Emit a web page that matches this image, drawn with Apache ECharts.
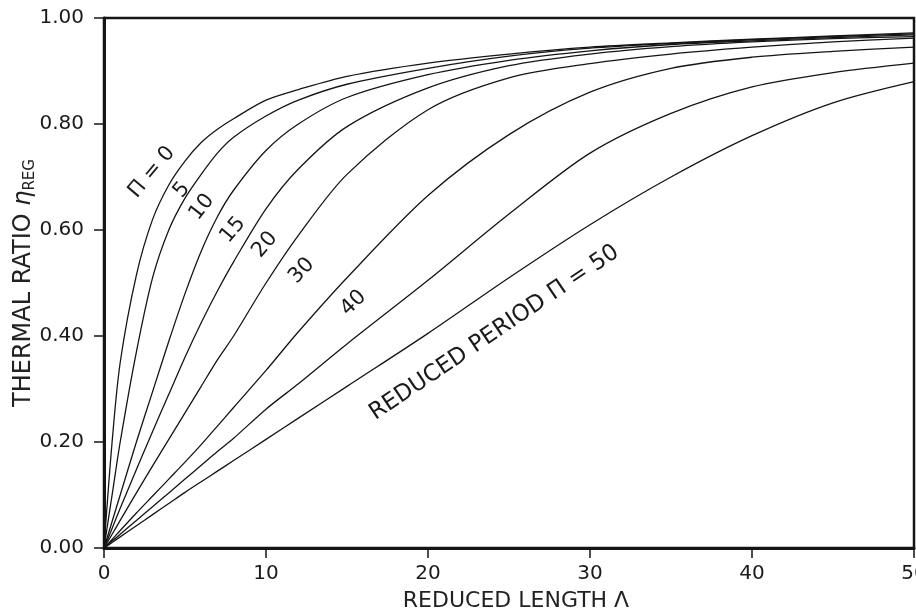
<!DOCTYPE html>
<html>
<head>
<meta charset="utf-8">
<script src="https://cdn.jsdelivr.net/npm/echarts@6/dist/echarts.min.js"></script>
<style>
html,body{margin:0;padding:0;background:#fff;}
#chart{width:916px;height:609px;}
</style>
</head>
<body>
<div id="chart"></div>
<script>
let lambdaPts = [0, 0.5, 1, 2, 3, 4, 5, 6, 7, 8, 10, 12, 15, 20, 25, 30, 35, 40, 45, 50]
// thermal ratio for each reduced period Π
let etaP0  = [0, 0.2, 0.35, 0.515, 0.62, 0.685, 0.73, 0.765, 0.79, 0.81, 0.845, 0.865, 0.89, 0.915, 0.932, 0.945, 0.953, 0.96, 0.966, 0.972]
let etaP5  = [0, 0.1, 0.2, 0.37, 0.51, 0.60, 0.66, 0.705, 0.745, 0.775, 0.815, 0.845, 0.875, 0.905, 0.928, 0.943, 0.952, 0.959, 0.965, 0.970]
let etaP10 = [0, 0.05, 0.1, 0.2, 0.295, 0.39, 0.48, 0.56, 0.625, 0.675, 0.75, 0.80, 0.85, 0.893, 0.92, 0.938, 0.95, 0.957, 0.963, 0.968]
let etaP15 = [0, 0.037, 0.075, 0.148, 0.22, 0.29, 0.36, 0.425, 0.485, 0.54, 0.64, 0.715, 0.795, 0.868, 0.91, 0.932, 0.946, 0.955, 0.961, 0.965]
let etaP20 = [0, 0.026, 0.052, 0.104, 0.155, 0.205, 0.255, 0.305, 0.355, 0.40, 0.50, 0.59, 0.705, 0.827, 0.887, 0.914, 0.932, 0.945, 0.955, 0.962]
let etaP30 = [0, 0.016, 0.033, 0.066, 0.098, 0.13, 0.162, 0.195, 0.23, 0.265, 0.335, 0.408, 0.51, 0.665, 0.78, 0.86, 0.905, 0.926, 0.937, 0.945]
let etaP40 = [0, 0.013, 0.026, 0.052, 0.078, 0.104, 0.13, 0.156, 0.182, 0.207, 0.262, 0.31, 0.385, 0.505, 0.63, 0.745, 0.82, 0.87, 0.897, 0.915]
let etaP50 = [0, 0.0105, 0.021, 0.042, 0.063, 0.084, 0.105, 0.125, 0.145, 0.165, 0.205, 0.245, 0.305, 0.405, 0.51, 0.61, 0.70, 0.778, 0.84, 0.88]
let periods = [0, 5, 10, 15, 20, 30, 40, 50]
let curves = [etaP0, etaP5, etaP10, etaP15, etaP20, etaP30, etaP40, etaP50]

// curve labels, anchored in data units
let curveLabels = [
    {text: 'Π = 0', at: [2.96, 0.709], angle: 50, size: 21},
    {text: '5', at: [4.81, 0.675], angle: 50, size: 21},
    {text: '10', at: [6.05, 0.643], angle: 52, size: 21},
    {text: '15', at: [7.96, 0.600], angle: 50, size: 21},
    {text: '20', at: [9.94, 0.572], angle: 50, size: 21},
    {text: '30', at: [12.2, 0.523], angle: 47, size: 21},
    {text: '40', at: [15.4, 0.462], angle: 44, size: 21},
    {text: 'REDUCED PERIOD Π = 50', at: [24.1, 0.406], angle: 34, size: 23}
]

let ink = '#151515'
let font = 'DejaVu Sans'

let myChart = echarts.init(document.getElementById('chart'), null, {renderer: 'canvas'})

let series = curves.map(function (vals, i) {
    return {
        name: 'Π = ' + periods[i],
        type: 'line',
        data: lambdaPts.map(function (x, j) { return [x, vals[j]] }),
        smooth: 0.3,
        showSymbol: false,
        silent: true,
        lineStyle: {color: ink, width: 1.3}
    }
})

let option = {
    backgroundColor: '#fff',
    animation: false,
    grid: {
        left: 104, right: 2, top: 18, bottom: 61,
        outerBoundsMode: 'none',
        containLabel: false,
        show: true, borderColor: ink, borderWidth: 2.5
    },
    xAxis: {
        type: 'value',
        min: 0, max: 50, interval: 10,
        name: 'REDUCED LENGTH Λ',
        nameLocation: 'middle',
        nameGap: 42,
        nameMoveOverlap: false,
        nameTextStyle: {fontFamily: font, fontSize: 22, color: '#222', padding: [0, 0, 0, 14]},
        axisLine: {show: true, lineStyle: {color: ink, width: 3}},
        axisTick: {show: true, length: 10, lineStyle: {color: ink, width: 1.5}},
        axisLabel: {fontFamily: font, fontSize: 20, color: '#1a1a1a', margin: 16},
        splitLine: {show: false}
    },
    yAxis: {
        type: 'value',
        min: 0, max: 1, interval: 0.2,
        name: 'THERMAL RATIO {eta|η}{sub|REG}',
        nameLocation: 'middle',
        nameGap: 66,
        nameMoveOverlap: false,
        nameTextStyle: {
            fontFamily: font, fontSize: 24, color: '#222',
            rich: {
                eta: {fontFamily: font, fontSize: 24, fontStyle: 'italic', color: '#222', lineHeight: 28},
                sub: {fontFamily: font, fontSize: 15, color: '#222', lineHeight: 14, verticalAlign: 'bottom'}
            }
        },
        axisLine: {show: true, lineStyle: {color: ink, width: 3}},
        axisTick: {show: true, length: 10, lineStyle: {color: ink, width: 1.5}},
        axisLabel: {
            fontFamily: font, fontSize: 20, color: '#1a1a1a', margin: 20,
            formatter: function (v) { return v.toFixed(2) }
        },
        splitLine: {show: false}
    },
    series: series
}

myChart.setOption(option)

// put the rotated curve labels on top, placed through the axes
let labelGraphics = curveLabels.map(function (lb) {
    let p = myChart.convertToPixel({gridIndex: 0}, lb.at)
    return {
        type: 'text',
        x: p[0], y: p[1],
        rotation: lb.angle * Math.PI / 180,
        silent: true,
        style: {
            text: lb.text,
            fontFamily: font,
            fontSize: lb.size,
            fill: '#1a1a1a',
            align: 'center',
            verticalAlign: 'middle'
        }
    }
})
myChart.setOption({graphic: labelGraphics})
</script>
</body>
</html>
